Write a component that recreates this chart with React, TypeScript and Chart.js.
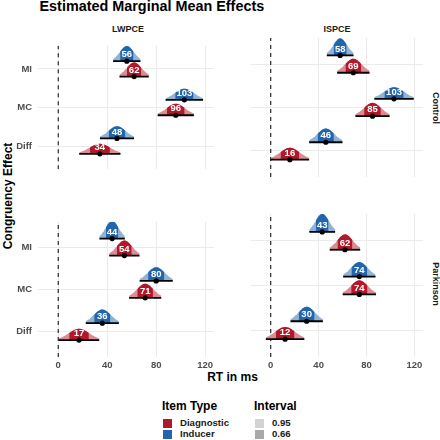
import React, { useEffect, useRef } from "react";
import { Chart, registerables } from "chart.js";

Chart.register(...registerables);

// ---------- data ----------
const effects = ["MI", "MC", "Diff"];
const effectY = [3, 2, 1];
const designs = ["LWPCE", "ISPCE"];
const groups = ["Control", "Parkinson"];
const itemTypes = ["Diagnostic", "Inducer"];
const intervalLevels = ["0.95", "0.66"];
const xTicks = [0, 40, 80, 120];

// means (ms) and posterior SDs for [MI, MC, Diff]
const controlLwpceInducerMean = [56, 103, 48];
const controlLwpceInducerSd = [5.7, 7.8, 7.1];
const controlLwpceDiagnosticMean = [62, 96, 34];
const controlLwpceDiagnosticSd = [6.1, 7.55, 8.6];

const controlIspceInducerMean = [58, 103, 46];
const controlIspceInducerSd = [5.7, 8.4, 7.1];
const controlIspceDiagnosticMean = [69, 85, 16];
const controlIspceDiagnosticSd = [6.9, 7.3, 8.2];

const parkinsonLwpceInducerMean = [44, 80, 36];
const parkinsonLwpceInducerSd = [5.3, 6.9, 6.9];
const parkinsonLwpceDiagnosticMean = [54, 71, 17];
const parkinsonLwpceDiagnosticSd = [6.3, 6.7, 8.4];

const parkinsonIspceInducerMean = [43, 74, 30];
const parkinsonIspceInducerSd = [5.5, 6.9, 6.9];
const parkinsonIspceDiagnosticMean = [62, 74, 12];
const parkinsonIspceDiagnosticSd = [6.5, 7.1, 8.2];

// ---------- styling ----------
const FONT = "'Liberation Sans', Arial, Helvetica, sans-serif";
const DARK = { Diagnostic: "#B2182B", Inducer: "#2166AC" };
const LIGHT = { Diagnostic: "#DC8B95", Inducer: "#90B2D5" };
const INTERVAL_COLORS = ["#D3D3D3", "#A9A9A9"];
const GRID = "#EBEBEB";
const TICK_COLOR = "#4D4D4D";

const X_MIN = -16.5;
const PANEL_W = 180;
const PANEL_H = 147;
const PX_PER_MS = 1.2526;
const X_MAX = X_MIN + PANEL_W / PX_PER_MS;
const Y_MIN = 0.4;
const Y_MAX = 3.6;
const SLAB_K = 2.24; // slab height scale (y-units * ms)
const DODGE = 0.2;
const Z95 = 1.96;
const Z66 = 0.954;

const colLeft = [38, 247];
const rowTop = [34, 210];
const Y_AXIS_W = 38;
const X_AXIS_H = 20;

type Series = { type: "Diagnostic" | "Inducer"; means: number[]; sds: number[] };

const panels: Series[][][] = [
  [
    [
      { type: "Inducer", means: controlLwpceInducerMean, sds: controlLwpceInducerSd },
      { type: "Diagnostic", means: controlLwpceDiagnosticMean, sds: controlLwpceDiagnosticSd },
    ],
    [
      { type: "Inducer", means: controlIspceInducerMean, sds: controlIspceInducerSd },
      { type: "Diagnostic", means: controlIspceDiagnosticMean, sds: controlIspceDiagnosticSd },
    ],
  ],
  [
    [
      { type: "Inducer", means: parkinsonLwpceInducerMean, sds: parkinsonLwpceInducerSd },
      { type: "Diagnostic", means: parkinsonLwpceDiagnosticMean, sds: parkinsonLwpceDiagnosticSd },
    ],
    [
      { type: "Inducer", means: parkinsonIspceInducerMean, sds: parkinsonIspceInducerSd },
      { type: "Diagnostic", means: parkinsonIspceDiagnosticMean, sds: parkinsonIspceDiagnosticSd },
    ],
  ],
];

function slabPoints(m: number, s: number, z: number, base: number) {
  const pts: { x: number; y: number }[] = [];
  const n = 40;
  for (let i = 0; i <= n; i++) {
    const zz = -z + (2 * z * i) / n;
    pts.push({ x: m + zz * s, y: base + (SLAB_K / s) * Math.exp(-(zz * zz) / 2) });
  }
  return pts;
}

function Panel({ row, col }: { row: number; col: number }) {
  const ref = useRef<HTMLCanvasElement | null>(null);
  const showY = col === 0;
  const showX = row === 1;
  const width = PANEL_W + (showY ? Y_AXIS_W : 0);
  const height = PANEL_H + (showX ? X_AXIS_H : 0);
  const left = colLeft[col] - (showY ? Y_AXIS_W : 0);
  const top = rowTop[row];

  useEffect(() => {
    if (!ref.current) return;
    const series = panels[row][col];
    const drawList: any[] = [];
    drawList.push({
      data: [
        { x: 0, y: Y_MIN },
        { x: 0, y: Y_MAX },
      ],
      borderColor: "#000000",
      borderWidth: 1,
      borderDash: [4, 4],
      pointRadius: 0,
      fill: false,
    });
    const labels: { x: number; y: number; text: string }[] = [];
    series.forEach((s) => {
      s.means.forEach((m, i) => {
        const sd = s.sds[i];
        const base = effectY[i] + (s.type === "Inducer" ? DODGE : -DODGE);
        drawList.push({
          data: slabPoints(m, sd, Z95, base),
          borderWidth: 0,
          borderColor: "rgba(0,0,0,0)",
          backgroundColor: LIGHT[s.type],
          pointRadius: 0,
          fill: { value: base },
          tension: 0,
        });
        drawList.push({
          data: slabPoints(m, sd, Z66, base),
          borderWidth: 0,
          borderColor: "rgba(0,0,0,0)",
          backgroundColor: DARK[s.type],
          pointRadius: 0,
          fill: { value: base },
          tension: 0,
        });
        drawList.push({
          data: [
            { x: m - Z95 * sd, y: base },
            { x: m + Z95 * sd, y: base },
          ],
          borderColor: "#000000",
          borderWidth: 1.8,
          pointRadius: 0,
          fill: false,
        });
        drawList.push({
          data: [{ x: m, y: base }],
          showLine: false,
          pointRadius: 2.6,
          pointBackgroundColor: "#000000",
          pointBorderWidth: 0,
          fill: false,
        });
        labels.push({ x: m, y: base, text: String(Math.round(m)) });
      });
    });
    const N = drawList.length;
    drawList.forEach((d, i) => (d.order = N - i));

    const labelPlugin = {
      id: "slabLabels",
      afterDatasetsDraw(chart: any) {
        const { ctx, scales } = chart;
        ctx.save();
        ctx.font = `bold 9.5px ${FONT}`;
        ctx.fillStyle = "#FFFFFF";
        ctx.textAlign = "center";
        ctx.textBaseline = "middle";
        labels.forEach((l) => {
          ctx.fillText(l.text, scales.x.getPixelForValue(l.x), scales.y.getPixelForValue(l.y) - 6.5);
        });
        ctx.restore();
      },
    };

    const chart = new Chart(ref.current, {
      type: "line",
      data: { datasets: drawList },
      plugins: [labelPlugin],
      options: {
        animation: false,
        responsive: false,
        maintainAspectRatio: false,
        devicePixelRatio: 1,
        layout: { padding: 0 },
        plugins: { legend: { display: false }, tooltip: { enabled: false } },
        elements: { line: { borderCapStyle: "butt" } },
        scales: {
          x: {
            type: "linear",
            min: X_MIN,
            max: X_MAX,
            afterBuildTicks: (scale: any) => {
              scale.ticks = xTicks.map((v) => ({ value: v }));
            },
            afterFit: (scale: any) => {
              scale.height = showX ? X_AXIS_H : 0;
            },
            grid: { color: GRID, lineWidth: 1, drawTicks: false },
            border: { display: false },
            ticks: {
              display: showX,
              autoSkip: false,
              maxRotation: 0,
              padding: 3,
              color: TICK_COLOR,
              font: { family: FONT, size: 9.5, weight: "bold" },
              callback: (v: any) => String(v),
            },
          },
          y: {
            type: "linear",
            min: Y_MIN,
            max: Y_MAX,
            afterBuildTicks: (scale: any) => {
              scale.ticks = effectY.map((v) => ({ value: v }));
            },
            afterFit: (scale: any) => {
              scale.width = showY ? Y_AXIS_W : 0;
            },
            grid: { color: GRID, lineWidth: 1, drawTicks: false },
            border: { display: false },
            ticks: {
              display: showY,
              autoSkip: false,
              padding: 6,
              color: TICK_COLOR,
              font: { family: FONT, size: 9.5, weight: "bold" },
              callback: (v: any) => effects[effectY.indexOf(Number(v))] ?? "",
            },
          },
        },
      } as any,
    });
    return () => chart.destroy();
  }, [row, col]);

  return (
    <canvas
      ref={ref}
      width={width}
      height={height}
      style={{ position: "absolute", left, top, width, height, display: "block" }}
    />
  );
}

function Txt({
  x,
  cy,
  size,
  children,
  align = "left",
  color = "#000000",
  rotate = 0,
}: {
  x: number;
  cy: number;
  size: number;
  children: React.ReactNode;
  align?: "left" | "center";
  color?: string;
  rotate?: number;
}) {
  if (rotate !== 0) {
    return (
      <div
        style={{
          position: "absolute",
          left: x,
          top: cy,
          width: 0,
          height: 0,
        }}
      >
        <div
          style={{
            position: "absolute",
            left: 0,
            top: 0,
            transform: `translate(-50%, -50%) rotate(${rotate}deg)`,
            fontFamily: FONT,
            fontWeight: "bold",
            fontSize: size,
            lineHeight: `${size}px`,
            whiteSpace: "nowrap",
            color,
          }}
        >
          {children}
        </div>
      </div>
    );
  }
  return (
    <div
      style={{
        position: "absolute",
        left: x,
        top: cy - 0.49 * size,
        transform: align === "center" ? "translateX(-50%)" : undefined,
        fontFamily: FONT,
        fontWeight: "bold",
        fontSize: size,
        lineHeight: `${size}px`,
        whiteSpace: "nowrap",
        color,
      }}
    >
      {children}
    </div>
  );
}

export default function App() {
  return (
    <div
      style={{
        position: "fixed",
        left: 0,
        top: 0,
        width: 440,
        height: 440,
        background: "#FFFFFF",
        overflow: "hidden",
      }}
    >
      <Txt x={39.5} cy={6} size={14.4}>
        Estimated Marginal Mean Effects
      </Txt>
      {designs.map((d, c) => (
        <Txt key={d} x={colLeft[c] + PANEL_W / 2} cy={29} size={9} align="center" color="#1A1A1A">
          {d}
        </Txt>
      ))}
      {groups.map((g, r) => (
        <Txt key={g} x={435} cy={rowTop[r] + PANEL_H / 2} size={9} rotate={90} color="#1A1A1A">
          {g}
        </Txt>
      ))}
      <Txt x={7.5} cy={195.5} size={12} rotate={-90}>
        Congruency Effect
      </Txt>
      <Txt x={232.5} cy={377} size={12} align="center">
        RT in ms
      </Txt>

      {[0, 1].map((r) => [0, 1].map((c) => <Panel key={`${r}-${c}`} row={r} col={c} />))}

      {/* legend: item type */}
      <Txt x={162} cy={406} size={12}>
        Item Type
      </Txt>
      {itemTypes.map((t, i) => (
        <React.Fragment key={t}>
          <div
            style={{
              position: "absolute",
              left: 163,
              top: 418.5 + i * 11,
              width: 9,
              height: 9,
              background: DARK[t as "Diagnostic" | "Inducer"],
            }}
          />
          <Txt x={180} cy={423 + i * 11} size={9.6} color="#1A1A1A">
            {t}
          </Txt>
        </React.Fragment>
      ))}
      {/* legend: interval */}
      <Txt x={254} cy={406} size={12}>
        Interval
      </Txt>
      {intervalLevels.map((lv, i) => (
        <React.Fragment key={lv}>
          <div
            style={{
              position: "absolute",
              left: 255,
              top: 418.5 + i * 11,
              width: 9,
              height: 9,
              background: INTERVAL_COLORS[i],
            }}
          />
          <Txt x={272} cy={423 + i * 11} size={9.6} color="#1A1A1A">
            {lv}
          </Txt>
        </React.Fragment>
      ))}
    </div>
  );
}
